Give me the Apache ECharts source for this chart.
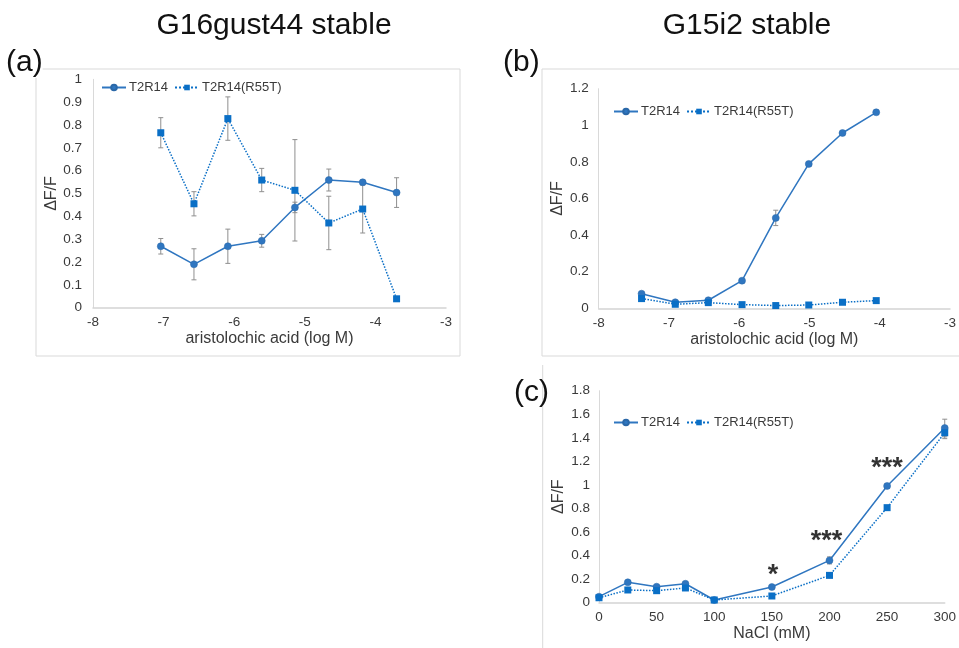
<!DOCTYPE html>
<html>
<head>
<meta charset="utf-8">
<script src="https://cdn.jsdelivr.net/npm/echarts@6/dist/echarts.min.js"></script>
<style>
html,body{margin:0;padding:0;background:#fff;}
#chart{width:959px;height:648px;}
</style>
</head>
<body>
<div id="chart"></div>
<script>
// ---------- data ----------
const seriesNames = ['T2R14', 'T2R14(R55T)'];

// (a) G16gust44 stable
const aX = [-7.04, -6.57, -6.09, -5.61, -5.14, -4.66, -4.18, -3.70];
const aWT = [0.269, 0.190, 0.269, 0.293, 0.439, 0.559, 0.549, 0.504];
const aWTErr = [0.034, 0.068, 0.075, 0.028, 0.023, 0.048, 0.010, 0.065];
const aMut = [0.766, 0.455, 0.828, 0.559, 0.514, 0.371, 0.432, 0.039];
const aMutErr = [0.066, 0.053, 0.095, 0.051, 0.222, 0.117, 0.105, 0.004];

// (b) G15i2 stable
const bX = [-7.39, -6.91, -6.44, -5.96, -5.48, -5.01, -4.53, -4.05];
const bWT = [0.080, 0.033, 0.044, 0.151, 0.494, 0.789, 0.958, 1.071];
const bWTErr = [0.010, 0.005, 0.008, 0.010, 0.042, 0.010, 0.010, 0.012];
const bMut = [0.053, 0.022, 0.031, 0.020, 0.015, 0.018, 0.033, 0.042];
const bMutErr = [0.010, 0.005, 0.005, 0.005, 0.005, 0.005, 0.005, 0.005];

// (c) NaCl
const cX = [0, 25, 50, 75, 100, 150, 200, 250, 300];
const cWT = [0.051, 0.173, 0.136, 0.161, 0.023, 0.133, 0.359, 0.991, 1.483];
const cWTErr = [0.010, 0.015, 0.010, 0.015, 0.010, 0.010, 0.030, 0.020, 0.075];
const cMut = [0.042, 0.108, 0.102, 0.125, 0.023, 0.057, 0.232, 0.807, 1.443];
const cMutErr = [0.010, 0.010, 0.010, 0.010, 0.005, 0.010, 0.015, 0.015, 0.050];

// significance annotations in (c)
const starX = [151, 197.5, 250];
const starY = [0.23, 0.515, 1.135];
const starText = ['*', '***', '***'];

// tick settings
const aXTicks = {min: -8, max: -3, interval: 1};
const aYTicks = {min: 0, max: 1, interval: 0.1};
const bXTicks = {min: -8, max: -3, interval: 1};
const bYTicks = {min: 0, max: 1.2, interval: 0.2};
const cXTicks = {min: 0, max: 300, interval: 50};
const cYTicks = {min: 0, max: 1.8, interval: 0.2};

const titles = ['G16gust44 stable', 'G15i2 stable'];
const panelLabels = ['(a)', '(b)', '(c)'];
const xNames = ['aristolochic acid (log M)', 'aristolochic acid (log M)', 'NaCl (mM)'];
const yName = 'ΔF/F';

// ---------- styling ----------
const FONT = '"Liberation Sans", Arial, Helvetica, sans-serif';
const TXT = '#3a3a3a';
const WT_COLOR = '#2f76c0';
const MUT_COLOR = '#0a6fc6';
const ERR_COLOR = '#8f8f8f';
const FRAME = '#d9d9d9';

const zip = (xs, ys) => xs.map((x, i) => [x, ys[i]]);
const zip3 = (xs, ys, es) => xs.map((x, i) => [x, ys[i], es[i]]);

function errRender(params, api) {
  const x = api.value(0), y = api.value(1), e = api.value(2);
  const hi = api.coord([x, y + e]);
  const lo = api.coord([x, y - e]);
  const w = 2.5;
  const style = {stroke: ERR_COLOR, lineWidth: 1};
  return {
    type: 'group',
    children: [
      {type: 'line', shape: {x1: hi[0], y1: hi[1], x2: lo[0], y2: lo[1]}, style},
      {type: 'line', shape: {x1: hi[0] - w, y1: hi[1], x2: hi[0] + w, y2: hi[1]}, style},
      {type: 'line', shape: {x1: lo[0] - w, y1: lo[1], x2: lo[0] + w, y2: lo[1]}, style}
    ]
  };
}

const grids = [
  {left: 93, top: 79.3, width: 353, height: 228.4},
  {left: 598.7, top: 88.7, width: 354.6, height: 219.6},
  {left: 599, top: 390.7, width: 349.3, height: 212}
];

function xAxisCfg(idx, ticks, name, nameGap) {
  return Object.assign({
    type: 'value', gridIndex: idx, name: name, nameLocation: 'middle', nameGap: nameGap,
    nameTextStyle: {fontFamily: FONT, fontSize: 16, color: TXT},
    axisLine: {show: true, onZero: false, lineStyle: {color: '#d4d4d4', width: 1.5}},
    axisTick: {show: false}, splitLine: {show: false},
    axisLabel: {fontFamily: FONT, fontSize: 13.5, color: TXT, margin: 8, showMinLabel: true, showMaxLabel: true}
  }, ticks);
}
function yAxisCfg(idx, ticks, nameGap, margin) {
  return Object.assign({
    type: 'value', gridIndex: idx, name: yName, nameLocation: 'middle', nameRotate: 90, nameGap: nameGap,
    nameTextStyle: {fontFamily: FONT, fontSize: 16, color: TXT},
    axisLine: {show: true, lineStyle: {color: FRAME, width: 1}},
    axisTick: {show: false}, splitLine: {show: false},
    axisLabel: {fontFamily: FONT, fontSize: 13.5, color: TXT, margin: margin,
      formatter: v => String(+v.toFixed(1))}
  }, ticks);
}

function wtSeries(idx, data) {
  return {
    type: 'line', name: seriesNames[0], xAxisIndex: idx, yAxisIndex: idx, data: data,
    symbol: 'circle', symbolSize: 7, z: 3,
    lineStyle: {color: WT_COLOR, width: 1.5, type: 'solid'},
    itemStyle: {color: WT_COLOR, borderColor: '#2a68a8', borderWidth: 0.5}
  };
}
function mutSeries(idx, data) {
  return {
    type: 'line', name: seriesNames[1], xAxisIndex: idx, yAxisIndex: idx, data: data,
    symbol: 'rect', symbolSize: 7, z: 4,
    lineStyle: {color: MUT_COLOR, width: 1.5, type: 'dotted'},
    itemStyle: {color: MUT_COLOR}
  };
}
function errSeries(idx, data) {
  return {
    type: 'custom', xAxisIndex: idx, yAxisIndex: idx, data: data, renderItem: errRender, z: 2,
    silent: true
  };
}
function legendCfg(left, top) {
  return {
    left: left, top: top, itemWidth: 24, itemHeight: 7, itemGap: 6, padding: 0,
    data: seriesNames,
    textStyle: {fontFamily: FONT, fontSize: 13, color: TXT, padding: [0, 0, 0, -2]}
  };
}

const option = {
  backgroundColor: '#fff',
  animation: false,
  grid: grids,
  xAxis: [
    xAxisCfg(0, aXTicks, xNames[0], 22),
    xAxisCfg(1, bXTicks, xNames[1], 22),
    xAxisCfg(2, cXTicks, xNames[2], 17)
  ],
  yAxis: [
    yAxisCfg(0, aYTicks, 25, 11),
    yAxisCfg(1, bYTicks, 28, 10),
    yAxisCfg(2, cYTicks, 32, 9)
  ],
  legend: [legendCfg(101, 81), legendCfg(613, 105), legendCfg(613, 416)],
  series: [
    errSeries(0, zip3(aX, aWT, aWTErr)),
    errSeries(0, zip3(aX, aMut, aMutErr)),
    wtSeries(0, zip(aX, aWT)),
    mutSeries(0, zip(aX, aMut)),
    errSeries(1, zip3(bX, bWT, bWTErr)),
    errSeries(1, zip3(bX, bMut, bMutErr)),
    wtSeries(1, zip(bX, bWT)),
    mutSeries(1, zip(bX, bMut)),
    errSeries(2, zip3(cX, cWT, cWTErr)),
    errSeries(2, zip3(cX, cMut, cMutErr)),
    wtSeries(2, zip(cX, cWT)),
    mutSeries(2, zip(cX, cMut)),
    {
      type: 'scatter', xAxisIndex: 2, yAxisIndex: 2, symbolSize: 0, silent: true, z: 5,
      data: starX.map((x, i) => ({value: [x, starY[i]], name: starText[i]})),
      label: {show: true, position: 'inside', formatter: p => p.name,
        fontFamily: FONT, fontSize: 27, fontWeight: 'bold', color: '#000', letterSpacing: 4}
    }
  ],
  graphic: [
    {type: 'rect', silent: true, z: 0, shape: {x: 36, y: 69, width: 424, height: 287},
      style: {fill: 'none', stroke: FRAME, lineWidth: 1}},
    {type: 'rect', silent: true, z: 0, shape: {x: 542, y: 69, width: 440, height: 287},
      style: {fill: 'none', stroke: FRAME, lineWidth: 1}},
    {type: 'line', silent: true, z: 0, shape: {x1: 542.7, y1: 365, x2: 542.7, y2: 660},
      style: {stroke: FRAME, lineWidth: 1}},
    {type: 'text', z: 10, x: 274, y: 26, style: {text: titles[0], font: '30px ' + FONT,
      fill: '#111', align: 'center', verticalAlign: 'middle'}},
    {type: 'text', z: 10, x: 747, y: 26, style: {text: titles[1], font: '30px ' + FONT,
      fill: '#111', align: 'center', verticalAlign: 'middle'}},
    {type: 'text', z: 10, x: 6, y: 63, style: {text: panelLabels[0], font: '30px ' + FONT,
      fill: '#111', align: 'left', verticalAlign: 'middle', backgroundColor: '#fff'}},
    {type: 'text', z: 10, x: 503, y: 63, style: {text: panelLabels[1], font: '30px ' + FONT,
      fill: '#111', align: 'left', verticalAlign: 'middle', backgroundColor: '#fff'}},
    {type: 'text', z: 10, x: 514, y: 393, style: {text: panelLabels[2], font: '30px ' + FONT,
      fill: '#111', align: 'left', verticalAlign: 'middle'}}
  ]
};

const chart = echarts.init(document.getElementById('chart'), null, {renderer: 'canvas'});
chart.setOption(option);
</script>
</body>
</html>
